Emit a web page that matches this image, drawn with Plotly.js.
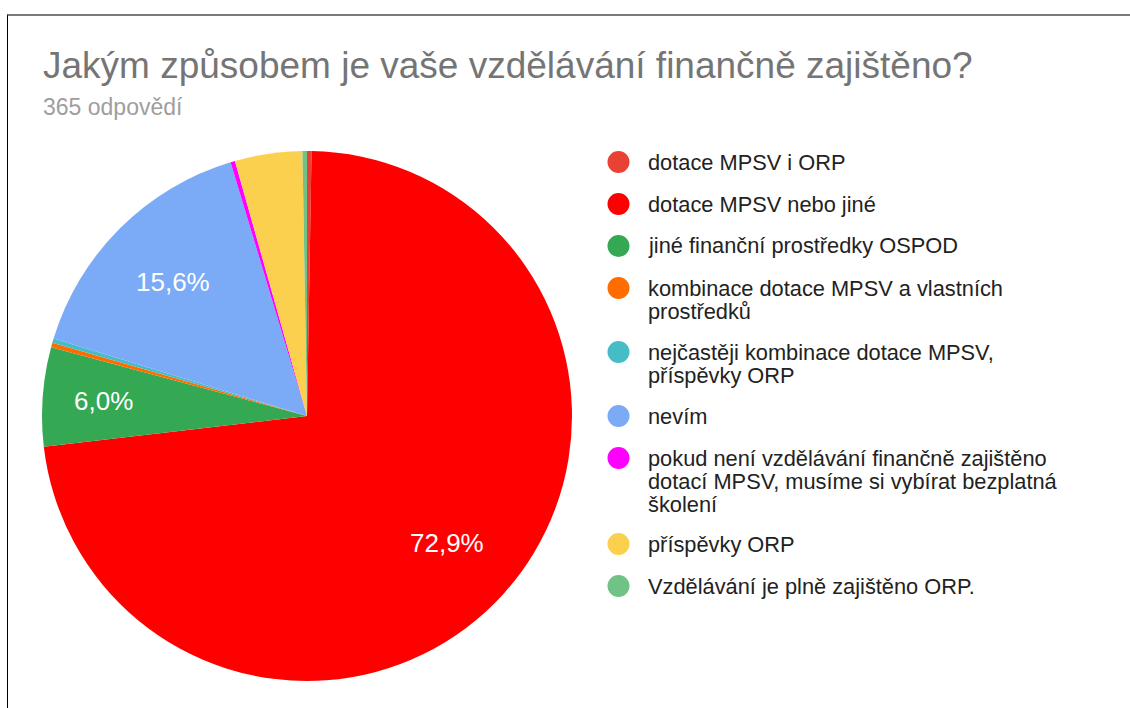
<!DOCTYPE html>
<html>
<head>
<meta charset="utf-8">
<script src="https://cdn.plot.ly/plotly-3.0.1.min.js"></script>
<style>
  html, body { margin: 0; padding: 0; background: #fff; }
  #wrap { position: relative; width: 1130px; height: 708px; overflow: hidden; }
  #frame { position: absolute; left: 7px; top: 14px; width: 1123px; height: 700px;
           border-top: 2px solid #7a7a7a; border-left: 1px solid #000; box-sizing: border-box; pointer-events: none; z-index: 5; }
  #chart { position: absolute; left: 0; top: 0; width: 1130px; height: 708px; }
</style>
</head>
<body>
<div id="wrap">
  <div id="chart"></div>
  <div id="frame"></div>
</div>
<script>
// ---- data ----
const titleText = "Jakým způsobem je vaše vzdělávání finančně zajištěno?";
const subtitleText = "365 odpovědí";
const categories = [
  "dotace MPSV i ORP",
  "dotace MPSV nebo jiné",
  "jiné finanční prostředky OSPOD",
  "kombinace dotace MPSV a vlastních prostředků",
  "nejčastěji kombinace dotace MPSV, příspěvky ORP",
  "nevím",
  "pokud není vzdělávání finančně zajištěno dotací MPSV, musíme si vybírat bezplatná školení",
  "příspěvky ORP",
  "Vzdělávání je plně zajištěno ORP."
];
const counts = [1, 266, 22, 1, 1, 57, 1, 15, 1];
const legendLines = [
  ["dotace MPSV i ORP"],
  ["dotace MPSV nebo jiné"],
  ["jiné finanční prostředky OSPOD"],
  ["kombinace dotace MPSV a vlastních", "prostředků"],
  ["nejčastěji kombinace dotace MPSV,", "příspěvky ORP"],
  ["nevím"],
  ["pokud není vzdělávání finančně zajištěno", "dotací MPSV, musíme si vybírat bezplatná", "školení"],
  ["příspěvky ORP"],
  ["Vzdělávání je plně zajištěno ORP."]
];
const colors = ["#e94235", "#ff0000", "#34a853", "#ff6d01", "#46bdc6", "#7baaf7", "#ff00ff", "#fcd04f", "#71c287"];

// ---- layout helpers ----
const W = 1130, H = 708;
const px = x => x / W;
const py = y => 1 - y / H;
const total = counts.reduce((a, b) => a + b, 0);

const FONT = "'Liberation Sans', Arial, sans-serif";

const pieLeft = 42, pieRight = 572, pieTop = 151, pieBottom = 681;
const cx = (pieLeft + pieRight) / 2, cy = (pieTop + pieBottom) / 2, R = (pieRight - pieLeft) / 2;

const annotations = [
  { text: titleText, x: px(41), y: py(65), xref: "paper", yref: "paper", xanchor: "left", yanchor: "middle",
    showarrow: false, font: { family: FONT, size: 37, color: "#757575" } },
  { text: subtitleText, x: px(41), y: py(107), xref: "paper", yref: "paper", xanchor: "left", yanchor: "middle",
    showarrow: false, font: { family: FONT, size: 23, color: "#9e9e9e" } }
];

// percentage labels inside big slices, placed along each slice's bisector
let cum = 0;
counts.forEach(c => {
  const frac = c / total;
  const mid = (cum + frac / 2) * 2 * Math.PI;
  cum += frac;
  if (frac < 0.05) return;
  const rf = frac < 0.1 ? 0.77 : 0.715;
  const lx = cx + Math.sin(mid) * R * rf;
  const ly = cy - Math.cos(mid) * R * rf;
  annotations.push({ text: (frac * 100).toFixed(1).replace(".", ",") + "%", x: px(lx), y: py(ly),
    xref: "paper", yref: "paper", xanchor: "center", yanchor: "middle", showarrow: false,
    font: { family: FONT, size: 26, color: "#ffffff" } });
});

const shapes = [];
const legendX = 646, markerX = 618.5, lineGap = 23, itemGap = 42, refLineGap = 22;
let yy = 162;
legendLines.forEach((lines, i) => {
  const r = 11;
  shapes.push({ type: "circle", xref: "paper", yref: "paper",
    x0: px(markerX - r), x1: px(markerX + r), y0: py(yy + r), y1: py(yy - r),
    fillcolor: colors[i], line: { width: 0 } });
  lines.forEach((ln, k) => {
    annotations.push({ text: ln, x: px(legendX), y: py(yy + k * lineGap), xref: "paper", yref: "paper",
      xanchor: "left", yanchor: "middle", showarrow: false,
      font: { family: FONT, size: 21.8, color: "#222222" } });
  });
  yy += (lines.length - 1) * refLineGap + itemGap;
});

const trace = {
  type: "pie",
  labels: categories,
  values: counts,
  marker: { colors: colors, line: { width: 0 } },
  sort: false,
  direction: "clockwise",
  rotation: 0,
  textinfo: "none",
  hoverinfo: "label+percent",
  showlegend: false,
  domain: { x: [px(pieLeft), px(pieRight)], y: [py(pieBottom), py(pieTop)] }
};

const layout = {
  width: W, height: H,
  margin: { l: 0, r: 0, t: 0, b: 0 },
  paper_bgcolor: "#ffffff",
  separators: ", ",
  showlegend: false,
  annotations: annotations,
  shapes: shapes
};

Plotly.newPlot("chart", [trace], layout, { displayModeBar: false, staticPlot: true });
</script>
</body>
</html>
